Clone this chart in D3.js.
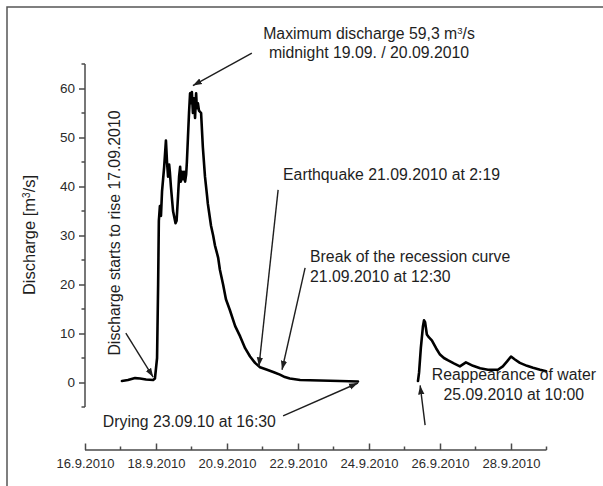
<!DOCTYPE html>
<html>
<head>
<meta charset="utf-8">
<script src="https://cdn.jsdelivr.net/npm/d3@7/dist/d3.min.js"></script>
<style>
  html, body { margin: 0; padding: 0; background: #fff; }
  svg { display: block; font-family: "Liberation Sans", Arial, sans-serif; }
</style>
</head>
<body>
<svg id="chart" width="603" height="486"></svg>
<script>
// Discharge record, September 2010. Times are decimal days of the month (17.5 = 17.9. 12:00).
const floodDays = [
  17.04, 17.21, 17.41, 17.55, 17.72, 17.92, 17.97, 18.03, 18.06, 18.08, 18.11, 18.14,
  18.17, 18.23, 18.28, 18.31, 18.34, 18.37, 18.39, 18.42, 18.48, 18.55, 18.58, 18.62,
  18.65, 18.68, 18.70, 18.73, 18.76, 18.79, 18.82, 18.85, 18.87, 18.90, 18.93, 18.96,
  18.99, 19.01, 19.04, 19.07, 19.10, 19.13, 19.15, 19.18, 19.21, 19.27, 19.32, 19.38,
  19.44, 19.46, 19.49, 19.55, 19.61, 19.66, 19.75, 19.80, 19.89, 19.97, 20.08, 20.23,
  20.37, 20.51, 20.65, 20.79, 20.93, 21.13, 21.32, 21.49, 21.63, 21.77, 22.06, 22.62,
  23.18, 23.69
];
const floodQ = [
  0.3, 0.5, 0.9, 0.8, 0.6, 0.5, 0.8, 5, 20, 33, 36, 34,
  39, 44, 49.4, 45, 42, 44.5, 43, 40, 35, 32.5, 33, 38,
  42, 44, 41, 43, 41.5, 43, 41, 42.5, 45, 50, 55, 59,
  57, 59.3, 55, 58, 54, 59, 56, 57, 55.5, 55, 48, 42,
  38, 36.5, 35, 32, 30, 28, 25.5, 23, 20, 17, 14.8, 11.5,
  9.4, 7, 5.3, 4, 3.1, 2.6, 2.1, 1.6, 1.1, 0.8, 0.5, 0.4,
  0.3, 0.2
];
const returnDays = [
  25.38, 25.41, 25.46, 25.52, 25.55, 25.58, 25.63, 25.69, 25.77, 25.89, 26.00, 26.11,
  26.23, 26.39, 26.56, 26.73, 26.93, 27.13, 27.35, 27.63, 27.77, 27.89, 28.00, 28.11,
  28.25, 28.45, 28.62, 28.82, 28.99
];
const returnQ = [
  0.3, 2, 7, 11.5, 12.7, 12.3, 9.8, 9.2, 8.6, 7, 5.7, 5.0,
  4.5, 3.9, 3.3, 4.1, 3.4, 2.9, 2.6, 2.6, 3.3, 4.3, 5.3, 4.7,
  4.0, 3.4, 3.0, 2.6, 2.3
];

// Axes
const dayDomain = [16, 29];
const qDomain = [-5, 65];
const qTicks = [0, 10, 20, 30, 40, 50, 60];
const qMinorTicks = [-5, 5, 15, 25, 35, 45, 55, 65];
const dateTickDays = [16, 18, 20, 22, 24, 26, 28];
const dateMinorDays = [17, 19, 21, 23, 25, 27, 29];

// Annotations: text anchors and arrows given in (day, discharge) units
const notes = [
  { lines: ["Maximum discharge 59,3 m|3|/s", "midnight 19.09. / 20.09.2010"], day: 24.0, q: [70.2, 66.2], anchor: "middle",
    from: [20.70, 67.2], to: [19.04, 60.6] },
  { lines: ["Earthquake 21.09.2010 at 2:19"], day: 21.58, q: [41.3], anchor: "start",
    from: [21.44, 39.3], to: [20.90, 3.3] },
  { lines: ["Break of the recession curve", "21.09.2010 at 12:30"], day: 22.34, q: [24.6, 20.5], anchor: "start",
    from: [22.20, 23.4], to: [21.55, 2.6] },
  { lines: ["Drying 23.09.10 at 16:30"], day: 18.94, q: [-9.0], anchor: "middle",
    from: [21.58, -6.8], to: [23.69, -0.1] },
  { lines: ["Reappearance of water", "25.09.2010 at 10:00"], day: 28.08, q: [0.5, -3.6], anchor: "middle",
    from: [25.58, -8.7], to: [25.44, -0.6] }
];
const riseNote = { text: "Discharge starts to rise 17.09.2010", day: 16.99, q: 30.5, from: [17.15, 10.1], to: [17.92, 1.1] };

const toDate = d => new Date(Date.UTC(2010, 8, 1) + (d - 1) * 864e5);

const svg = d3.select("#chart");
const ink = "#1e1e1e";
const axisInk = "#4a4a4a";
const noteSize = "15.8px";

const x = d3.scaleUtc().domain(dayDomain.map(toDate)).range([85, 546.5]);
const y = d3.scaleLinear().domain(qDomain).range([407, 64]);
const xAxisY = 450;

// outer frame (top and left edges)
svg.append("path")
  .attr("d", "M7,486 V7 H603")
  .attr("fill", "none").attr("stroke", "#555").attr("stroke-width", 1.5);

svg.append("defs").append("marker")
  .attr("id", "head").attr("viewBox", "0 0 10 10")
  .attr("refX", 10).attr("refY", 5)
  .attr("markerWidth", 9).attr("markerHeight", 9)
  .attr("markerUnits", "userSpaceOnUse")
  .attr("orient", "auto")
  .append("path").attr("d", "M0,1.5 L10,5 L0,8.5 Z").attr("fill", ink);

// y axis
const yAxis = svg.append("g").attr("transform", "translate(85,0)")
  .call(d3.axisLeft(y).tickValues(qTicks).tickSize(6).tickPadding(4).tickFormat(d3.format("d")));
yAxis.select(".domain").attr("stroke", axisInk).attr("stroke-width", 1.5).attr("d", `M0,${y(qDomain[0])}V${y(qDomain[1])}`);
yAxis.selectAll(".tick line").attr("stroke", axisInk).attr("stroke-width", 1.5);
yAxis.selectAll(".tick text").attr("fill", "#2a2a2a").style("font-size", "13.5px").style("font-family", "Liberation Sans, Arial, sans-serif");
yAxis.selectAll(".minor").data(qMinorTicks).enter().append("line")
  .attr("class", "minor").attr("x1", -3.5).attr("x2", 0)
  .attr("y1", d => y(d)).attr("y2", d => y(d))
  .attr("stroke", axisInk).attr("stroke-width", 1.5);

// x axis, drawn below the plot with ticks pointing up
const xAxis = svg.append("g").attr("transform", `translate(0,${xAxisY})`)
  .call(d3.axisBottom(x).tickValues(dateTickDays.map(toDate)).tickSize(0).tickPadding(9)
    .tickFormat(d3.utcFormat("%-d.%-m.%Y")));
xAxis.select(".domain").attr("stroke", axisInk).attr("stroke-width", 1.5).attr("d", `M${x.range()[0]},0H${x.range()[1]}`);
xAxis.selectAll(".tick text").attr("fill", "#2a2a2a").style("font-size", "13px").style("font-family", "Liberation Sans, Arial, sans-serif");
xAxis.selectAll(".tick").append("line").attr("y1", 0).attr("y2", -6.5).attr("stroke", axisInk).attr("stroke-width", 1.5);
xAxis.selectAll(".minor").data(dateMinorDays).enter().append("line")
  .attr("class", "minor").attr("x1", d => x(toDate(d))).attr("x2", d => x(toDate(d)))
  .attr("y1", 0).attr("y2", -3.5).attr("stroke", axisInk).attr("stroke-width", 1.5);

// axis title
svg.append("text")
  .attr("transform", "translate(35,235) rotate(-90)")
  .attr("text-anchor", "middle").attr("fill", ink).style("font-size", "16.5px")
  .call(t => {
    t.append("tspan").text("Discharge [m");
    t.append("tspan").attr("baseline-shift", "super").style("font-size", "10px").text("3");
    t.append("tspan").text("/s]");
  });

// discharge curves
const line = d3.line().x(d => x(toDate(d[0]))).y(d => y(d[1]));
[d3.zip(floodDays, floodQ), d3.zip(returnDays, returnQ)].forEach(series => {
  svg.append("path").datum(series)
    .attr("d", line)
    .attr("fill", "none").attr("stroke", "#000").attr("stroke-width", 2.6)
    .attr("stroke-linejoin", "round").attr("stroke-linecap", "round");
});

// annotations
const px = p => [x(toDate(p[0])), y(p[1])];
const arrow = (from, to) => {
  const a = px(from), b = px(to);
  svg.append("line").attr("x1", a[0]).attr("y1", a[1]).attr("x2", b[0]).attr("y2", b[1])
    .attr("stroke", ink).attr("stroke-width", 1.4).attr("marker-end", "url(#head)");
};

notes.forEach(n => {
  n.lines.forEach((s, i) => {
    const t = svg.append("text")
      .attr("x", x(toDate(n.day))).attr("y", y(n.q[i]))
      .attr("text-anchor", n.anchor).attr("fill", ink).style("font-size", noteSize);
    const parts = s.split("|");
    parts.forEach((p, j) => {
      const ts = t.append("tspan").text(p);
      if (j % 2 === 1) ts.attr("baseline-shift", "super").style("font-size", "9.5px");
    });
  });
  arrow(n.from, n.to);
});

const rp = px([riseNote.day, riseNote.q]);
svg.append("text")
  .attr("transform", `translate(${rp[0]},${rp[1]}) rotate(-90)`)
  .attr("text-anchor", "middle").attr("fill", ink).style("font-size", noteSize)
  .text(riseNote.text);
arrow(riseNote.from, riseNote.to);
</script>
</body>
</html>
